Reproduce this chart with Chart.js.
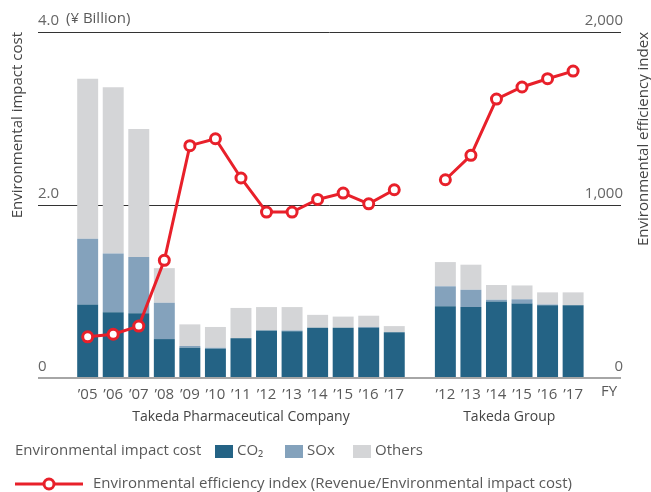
<!DOCTYPE html>
<html>
<head>
<meta charset="utf-8">
<script src="https://cdn.jsdelivr.net/npm/chart.js@4/dist/chart.umd.min.js"></script>
<style>
  html, body { margin: 0; padding: 0; background: #fff; }
  #wrap { width: 651px; height: 492px; }
</style>
</head>
<body>
<div id="wrap"><canvas id="envChart" width="651" height="492"></canvas></div>
<script>
// Takeda Pharmaceutical Company FY05-17 / Takeda Group FY12-17
const pharmaYears = ['’05', '’06', '’07', '’08', '’09', '’10', '’11', '’12', '’13', '’14', '’15', '’16', '’17'];
const groupYears = ['’12', '’13', '’14', '’15', '’16', '’17'];

// Environmental impact cost (¥ Billion)
const pharmaCO2 = [0.85, 0.76, 0.75, 0.45, 0.35, 0.34, 0.46, 0.55, 0.54, 0.58, 0.58, 0.58, 0.53];
const pharmaSOx = [0.76, 0.68, 0.65, 0.42, 0.02, 0.01, 0, 0, 0.01, 0, 0, 0.01, 0];
const pharmaOthers = [1.85, 1.92, 1.48, 0.40, 0.25, 0.24, 0.35, 0.27, 0.27, 0.15, 0.13, 0.13, 0.07];
const groupCO2 = [0.83, 0.82, 0.885, 0.86, 0.84, 0.84];
const groupSOx = [0.23, 0.20, 0.02, 0.05, 0.01, 0];
const groupOthers = [0.28, 0.29, 0.17, 0.16, 0.14, 0.15];

// Environmental efficiency index (Revenue/Environmental impact cost)
const pharmaIndex = [238, 253, 300, 680, 1343, 1383, 1156, 959, 959, 1032, 1069, 1007, 1088];
const groupIndex = [1146, 1287, 1612, 1682, 1730, 1774];

const leftTicks = [0, 2, 4];
const rightTicks = [0, 1000, 2000];

// one empty slot between the two companies
const xLabels = [...pharmaYears, '', ...groupYears];
function series(a, b) {
    return [...a, null, ...b].map((v, i) => ({ x: i, y: v }));
}

const FONT = "'Open Sans', sans-serif";
const TXT = '#595959';
const colors = { co2: '#246385', sox: '#84a2bc', others: '#d4d5d7', red: '#e8202a' };

const extras = {
    id: 'extras',
    afterDraw(chart) {
        const { ctx, chartArea, scales } = chart;
        const x = scales.x;
        ctx.save();
        ctx.fillStyle = TXT;
        ctx.font = '15px ' + FONT;
        ctx.textBaseline = 'middle';

        ctx.textAlign = 'left';
        ctx.fillText('(¥ Billion)', 66, 19);

        ctx.textAlign = 'center';
        ctx.fillText('FY', 609, 392);
        ctx.fillStyle = '#444';
        ctx.font = '14px ' + FONT;
        ctx.fillText('Takeda Pharmaceutical Company', x.getPixelForValue((pharmaYears.length - 1) / 2), 417);
        ctx.fillText('Takeda Group', x.getPixelForValue(pharmaYears.length + 1 + (groupYears.length - 1) / 2), 417);

        // right axis title, reads bottom to top
        ctx.font = '15px ' + FONT;
        ctx.save();
        ctx.translate(644, chartArea.top);
        ctx.rotate(-Math.PI / 2);
        ctx.textAlign = 'right';
        ctx.fillStyle = '#444';
        ctx.fillText('Environmental efficiency index', 0, 0);
        ctx.restore();

        // legend
        const ds = chart.data.datasets;
        ctx.textAlign = 'left';
        ctx.fillStyle = TXT;
        ctx.fillText('Environmental impact cost', 15, 451);
        const boxX = [215, 285, 353];
        [1, 2, 3].forEach((di, k) => {
            ctx.fillStyle = ds[di].backgroundColor;
            ctx.fillRect(boxX[k], 445, 18, 13);
            ctx.fillStyle = TXT;
            ctx.fillText(ds[di].label, boxX[k] + 22, 451);
        });

        const line = ds[0];
        ctx.strokeStyle = line.borderColor;
        ctx.lineWidth = 3;
        ctx.beginPath();
        ctx.moveTo(15, 484);
        ctx.lineTo(83, 484);
        ctx.stroke();
        ctx.beginPath();
        ctx.arc(49, 484, 5, 0, Math.PI * 2);
        ctx.fillStyle = '#fff';
        ctx.fill();
        ctx.lineWidth = 3;
        ctx.stroke();
        ctx.fillStyle = TXT;
        ctx.fillText(line.label, 93, 484);
        ctx.restore();
    }
};

new Chart(document.getElementById('envChart'), {
    type: 'bar',
    data: {
        datasets: [
            {
                type: 'line', label: 'Environmental efficiency index (Revenue/Environmental impact cost)',
                data: series(pharmaIndex, groupIndex), yAxisID: 'y1', order: 0,
                borderColor: colors.red, borderWidth: 3, backgroundColor: '#fff',
                pointRadius: 5, pointBorderWidth: 3, pointBackgroundColor: '#fff',
                pointBorderColor: colors.red, spanGaps: false, tension: 0
            },
            { label: 'CO₂', data: series(pharmaCO2, groupCO2), backgroundColor: colors.co2, order: 1 },
            { label: 'SOx', data: series(pharmaSOx, groupSOx), backgroundColor: colors.sox, order: 1 },
            { label: 'Others', data: series(pharmaOthers, groupOthers), backgroundColor: colors.others, order: 1 }
        ]
    },
    options: {
        responsive: false,
        animation: false,
        barPercentage: 0.82,
        categoryPercentage: 1,
        layout: { padding: { left: 6, right: 30, top: 32, bottom: 90 } },
        plugins: { legend: { display: false }, tooltip: { enabled: false } },
        scales: {
            x: {
                type: 'linear', stacked: true, offset: false, min: -1.944, max: 20.874,
                grid: { display: false }, border: { display: false },
                afterBuildTicks: s => { s.ticks = xLabels.map((l, i) => ({ value: i })); },
                afterFit: s => { s.height = 24; },
                ticks: {
                    autoSkip: false, maxRotation: 0, padding: 0, color: TXT,
                    font: { family: FONT, size: 15 },
                    callback: v => xLabels[v] ?? ''
                }
            },
            y: {
                position: 'left', stacked: true, min: 0, max: 4,
                border: { display: false },
                grid: {
                    drawTicks: false,
                    color: c => c.tick && c.tick.value === 0 ? '#a6a6a6' : '#333',
                    lineWidth: c => c.tick && c.tick.value === 0 ? 2 : 1
                },
                afterBuildTicks: s => { s.ticks = leftTicks.map(v => ({ value: v })); },
                afterFit: s => { s.width = 32; },
                ticks: {
                    mirror: true, padding: 0, labelOffset: -11, color: '#666',
                    font: { family: FONT, size: 15 },
                    callback: v => v === 0 ? '0' : v.toFixed(1)
                },
                title: {
                    display: true, text: 'Environmental impact cost', align: 'end',
                    color: '#444', font: { family: FONT, size: 15 },
                    padding: { top: 3, bottom: 11 }
                }
            },
            y1: {
                position: 'right', min: 0, max: 2000,
                border: { display: false },
                grid: { display: false, drawTicks: false },
                afterBuildTicks: s => { s.ticks = rightTicks.map(v => ({ value: v })); },
                afterFit: s => { s.width = 0; },
                ticks: {
                    mirror: true, padding: 2, labelOffset: -11, color: '#666',
                    font: { family: FONT, size: 15 },
                    callback: v => v.toLocaleString('en-US')
                }
            }
        }
    },
    plugins: [extras]
});
</script>
</body>
</html>
